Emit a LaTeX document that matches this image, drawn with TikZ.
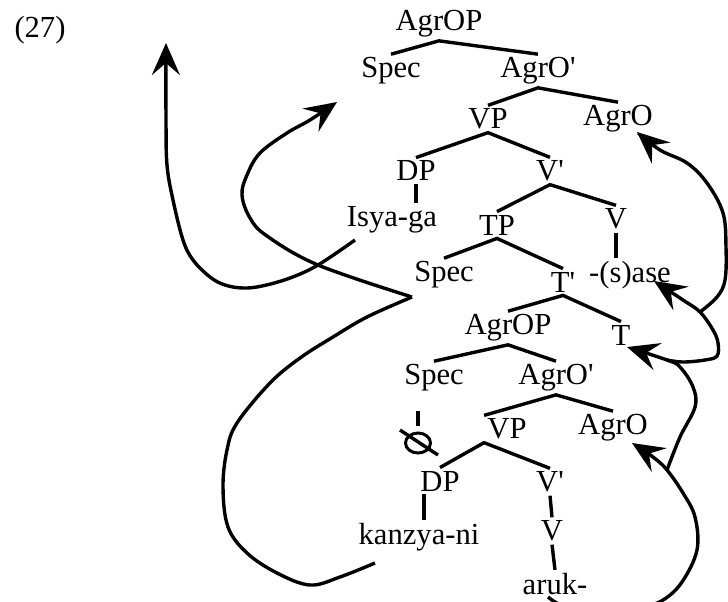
\documentclass[tikz,border=0pt]{standalone}
\usepackage{fontspec}
\setmainfont{Liberation Serif}
\usetikzlibrary{arrows.meta,shapes.geometric}

\tikzset{
	lbl/.style = {inner sep = 1.5pt, font = \fontsize{15.3}{18}\selectfont},
	branch/.style = {line width = 1.7pt},
	move/.style = {line width = 1.7pt, -{Stealth[length = 16pt, width = 14pt, inset = 6pt]}},
	nullmark/.style = {draw, ellipse, line width = 1.5pt, minimum width = 12.5pt, minimum height = 10pt, inner sep = 0pt}
}

\begin{document}
\begin{tikzpicture}[x = 0.5pt, y = -0.5pt]
	\useasboundingbox (0,0) rectangle (728,601);
	\clip (0,0) rectangle (728,601);

	\node[lbl] (ex) at (40,30) {(27)};

	% upper AgrOP
	\node[lbl] (agrop1) at (439,24) {AgrOP};
	\node[lbl] (spec1) at (391,71) {Spec};
	\node[lbl] (agrob1) at (538,71) {AgrO\textquotesingle};
	\node[lbl] (vp1) at (488,119) {VP};
	\node[lbl] (agro1) at (618,119) {AgrO};
	\node[lbl] (dp1) at (416,171) {DP};
	\node[lbl] (vb1) at (550,171) {V\textquotesingle};
	\node[lbl] (isya) at (392,220) {Isya-ga};
	\node[lbl] (tp) at (497,225) {TP};
	\node[lbl] (v1) at (616,219) {V};
	\node[lbl] (sase) at (630,275) {-(s)ase};
	% TP
	\node[lbl] (spec2) at (444,275) {Spec};
	\node[lbl] (tb) at (563,282) {T\textquotesingle};
	\node[lbl] (agrop2) at (508,328) {AgrOP};
	\node[lbl] (t) at (621,335) {T};
	% lower AgrOP
	\node[lbl] (spec3) at (434,378) {Spec};
	\node[lbl] (agrob2) at (556,378) {AgrO\textquotesingle};
	\node[nullmark] (nul) at (418,443) {};
	\node[lbl] (vp2) at (507,429) {VP};
	\node[lbl] (agro2) at (613,428) {AgrO};
	\node[lbl] (dp2) at (440,481) {DP};
	\node[lbl] (vb2) at (550,482) {V\textquotesingle};
	\node[lbl] (kan) at (419,537) {kanzya-ni};
	\node[lbl] (v2) at (552,531) {V};
	\node[lbl] (aruk) at (555,584) {aruk-};

	% branches
	\draw[branch] (spec1.north) -- (agrop1.south) -- (agrob1.north);
	\draw[branch] (vp1.north) -- (agrob1.south) -- (agro1.north);
	\draw[branch] (dp1.north) -- (vp1.south) -- (vb1.north);
	\draw[branch] (dp1.south) -- (dp1.south |- isya.north);
	\draw[branch] (tp.north) -- (vb1.south) -- (v1.north);
	\draw[branch] (v1.south) -- (v1.south |- sase.north);
	\draw[branch] (spec2.north) -- (tp.south) -- (tb.north);
	\draw[branch] (agrop2.north) -- (tb.south) -- (t.north);
	\draw[branch] (spec3.north) -- (agrop2.south) -- (agrob2.north);
	\draw[branch, shorten <= 8pt, shorten >= 3pt] (nul.north |- spec3.south) -- (nul.north);
	\draw[branch] ([shift = {(-18,-13)}]nul.center) -- ([shift = {(20,12)}]nul.center);
	\draw[branch] (vp2.north west) -- (agrob2.south) -- (agro2.north);
	\draw[branch] (dp2.north) -- (vp2.south west) -- (vb2.north);
	\draw[branch] ([xshift = -8]dp2.south) -- ([xshift = -8]dp2.south |- kan.north);
	\draw[branch] (vb2.south) -- (v2.north);
	\draw[branch] (v2.south) -- (aruk.north);

	% movement
	\coordinate (kanfoot) at (375,563);
	\coordinate (j) at (412,297);
	\coordinate (isyafoot) at (355,240);
	\coordinate (arukfoot) at (548,597);
	\coordinate (b1) at (667,470);
	\coordinate (b2) at (667,360);
	\coordinate (b3) at (700,312);
	\coordinate (specarr) at (337,102);
	\coordinate (uparr) at (166,43);
	\coordinate (agroarr) at (632,443);
	\coordinate (tarr) at (627,347);
	\coordinate (sasearr) at (654,281);
	\coordinate (agroarrb) at (637,132);

	\draw[branch] plot[smooth, tension = 0.6] coordinates {(kanfoot) (340,577) (310,585) (277,573) (247,553) (228,527) (223,487) (227,450) (237,423) (270,383) (300,358) (333,337) (367,317) (j)};
	\draw[move] plot[smooth, tension = 0.6] coordinates {(j) (318,265) (267,236) (250,218) (242,195) (247,175) (260,153) (287,133) (310,120) (specarr)};
	\draw[move] plot[smooth, tension = 0.6] coordinates {(isyafoot) (318,265) (290,278) (262,286) (243,288) (225,285) (210,277) (193,260) (183,240) (173,200) (167,165) (166,120) (uparr)};
	\draw[move] plot[smooth, tension = 0.6] coordinates {(arukfoot) (565,607) (600,615) (640,608) (663,600) (682,582) (697,550) (695,517) (683,493) (b1) (653,457) (agroarr)};
	\draw[move] plot[smooth, tension = 0.6] coordinates {(b1) (680,437) (695,407) (693,387) (680,367) (b2) (tarr)};
	\draw[move] plot[smooth, tension = 0.6] coordinates {(b2) (683,362) (705,360) (717,356) (718,343) (713,330) (b3) (683,300) (sasearr)};
	\draw[move] plot[smooth, tension = 0.6] coordinates {(b3) (717,297) (725,280) (726,247) (723,213) (707,183) (687,163) (660,150) (agroarrb)};
\end{tikzpicture}
\end{document}
